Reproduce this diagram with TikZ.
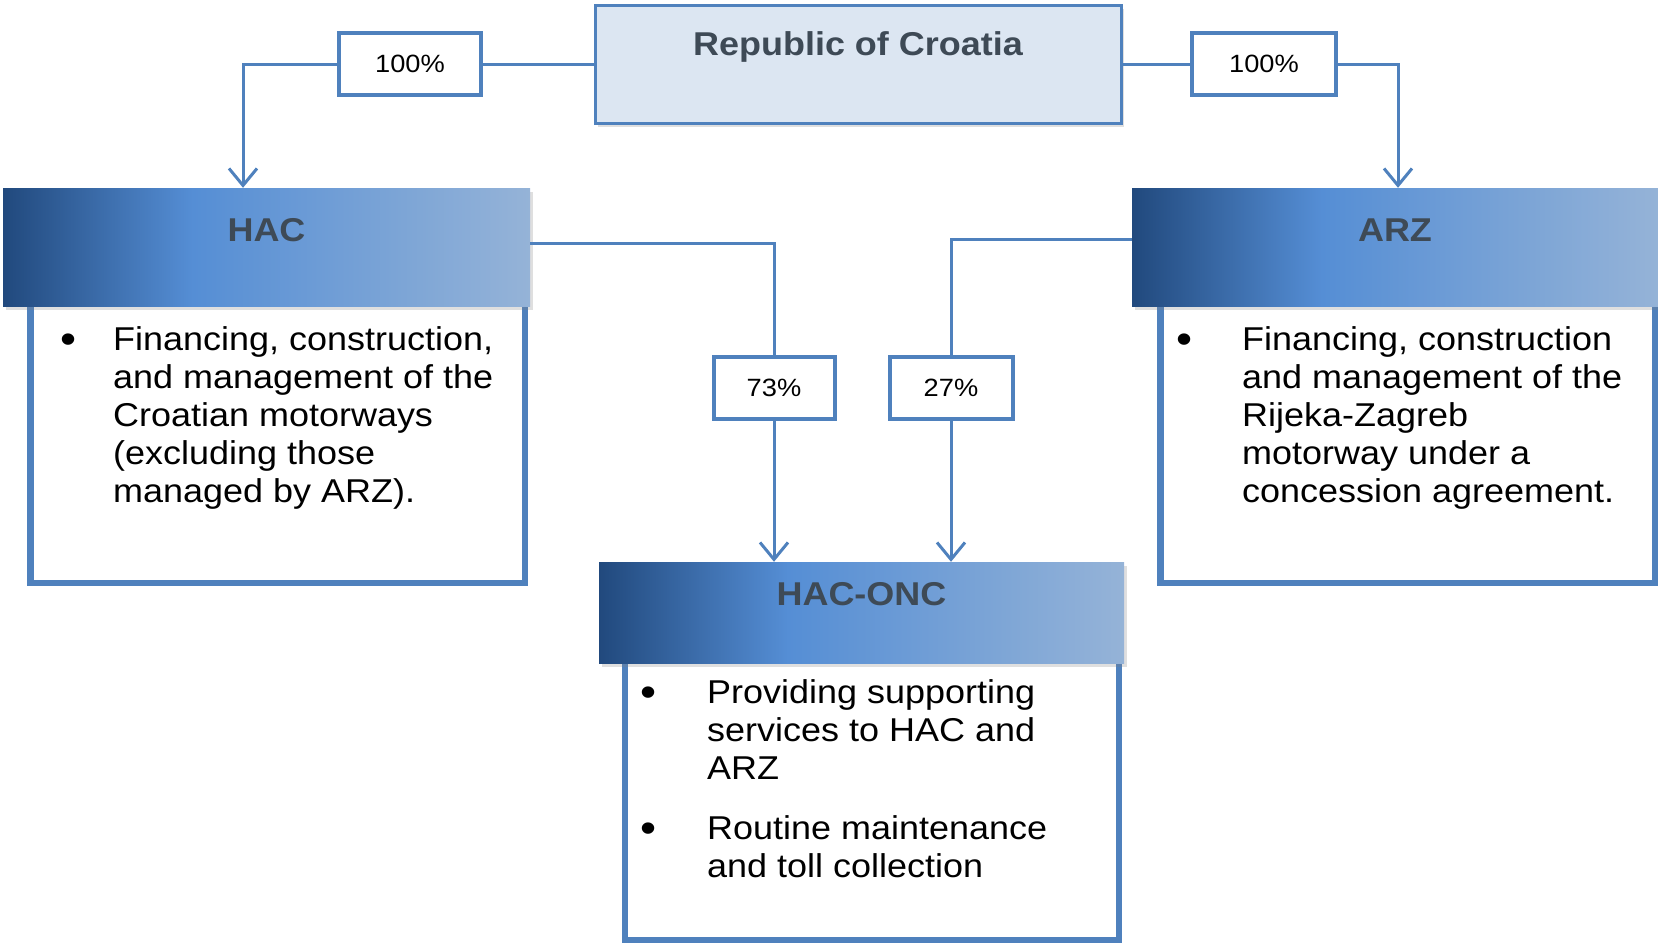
\documentclass[tikz,border=0pt]{standalone}
\usepackage{fontspec}
\setmainfont{Liberation Sans}[FakeStretch=1.09]
\usetikzlibrary{arrows.meta,shadows}

\definecolor{boxblue}{RGB}{79,129,189}
\definecolor{repfill}{RGB}{220,230,242}
\definecolor{hdrdark}{RGB}{33,73,125}
\definecolor{hdrmid}{RGB}{85,142,213}
\definecolor{hdrlight}{RGB}{149,179,215}
\definecolor{titlegray}{RGB}{62,74,86}

\pgfdeclarehorizontalshading{hdrshade}{100bp}{color(0bp)=(hdrdark); color(25bp)=(hdrdark); color(43bp)=(hdrmid); color(75bp)=(hdrlight); color(100bp)=(hdrlight)}

\begin{document}
\begin{tikzpicture}[x=1pt, y=-1pt,
    link/.style={draw=boxblue, line width=3pt},
    tip/.style={-{Straight Barb[length=17pt, width=28pt]}},
    pct/.style={draw=boxblue, line width=4pt, fill=white, minimum height=62pt, font=\fontsize{25}{30}\selectfont},
    hdr/.style={shade, shading=hdrshade, inner ysep=0pt, text=titlegray, font=\bfseries\fontsize{33}{38}\selectfont, drop shadow={shadow xshift=3pt, shadow yshift=-4pt, opacity=.25}},
    bodybox/.style={draw=boxblue, line width=6.5pt, fill=white},
    item/.style={anchor=base west, align=left, inner sep=0pt, font=\fontsize{33}{38}\selectfont},
    dot/.style={anchor=base, inner sep=0pt, font=\fontsize{42}{46}\selectfont}
]

    \useasboundingbox (0,0) rectangle (1658,943);

    %bodies
    \node[bodybox, minimum width=494.5pt, minimum height=293pt] (hacb) at (277.75,436.5) {};
    \node[bodybox, minimum width=494.5pt, minimum height=293pt] (arzb) at (1407.75,436.5) {};
    \node[bodybox, minimum width=494pt, minimum height=290pt] (oncb) at (872,795) {};

    %headers
    \node[hdr, minimum width=527pt, text height=53pt, text depth=65pt] (hac) at (266.5,247) {HAC};
    \node[hdr, minimum width=526pt, text height=53pt, text depth=65pt] (arz) at (1395,247) {ARZ};
    \node[hdr, minimum width=525pt, text height=43pt, text depth=58pt] (onc) at (861.5,612.5) {HAC-ONC};
    \node[draw=boxblue, line width=3pt, fill=repfill, inner ysep=0pt, minimum width=526pt,
          text height=50pt, text depth=68pt, text=titlegray, font=\bfseries\fontsize{33}{38}\selectfont,
          drop shadow={shadow xshift=3pt, shadow yshift=-4pt, opacity=.25}] (rep) at (858,64) {Republic of Croatia};

    %shares
    \node[pct, minimum width=142pt] (pl) at (410,64) {100\%};
    \node[pct, minimum width=144pt] (pr) at (1264,64) {100\%};
    \node[pct, minimum width=121pt] (p73) at (774,388) {73\%};
    \node[pct, minimum width=123pt] (p27) at (951,388) {27\%};

    %links
    \draw[link] (rep.west) -- (pl.east);
    \draw[link, tip] (pl.west) -| ([xshift=-23.5pt]hac.north);
    \draw[link] (rep.east) -- (pr.west);
    \draw[link, tip] (pr.east) -| ([xshift=3pt]arz.north);
    \draw[link] ([yshift=4pt]hac.east) -| (p73.north);
    \draw[link, tip] (p73.south) -- (p73.south |- onc.north);
    \draw[link] ([yshift=8pt]arz.west) -| (p27.north);
    \draw[link, tip] (p27.south) -- (p27.south |- onc.north);

    %tasks (base of a block = its last line)
    \node[dot] (d1) at (69,353) {\textbullet};
    \node[item] (t1) at (113,502) {Financing, construction,\\and management of the\\Croatian motorways\\(excluding those\\managed by ARZ).};
    \node[dot] (d2) at (1185,353) {\textbullet};
    \node[item] (t2) at (1242,502) {Financing, construction\\and management of the\\Rijeka-Zagreb\\motorway under a\\concession agreement.};
    \node[dot] (d3) at (649,706) {\textbullet};
    \node[item] (t3) at (707,779) {Providing supporting\\services to HAC and\\ARZ};
    \node[dot] (d4) at (649,842) {\textbullet};
    \node[item] (t4) at (707,877) {Routine maintenance\\and toll collection};

\end{tikzpicture}
\end{document}
